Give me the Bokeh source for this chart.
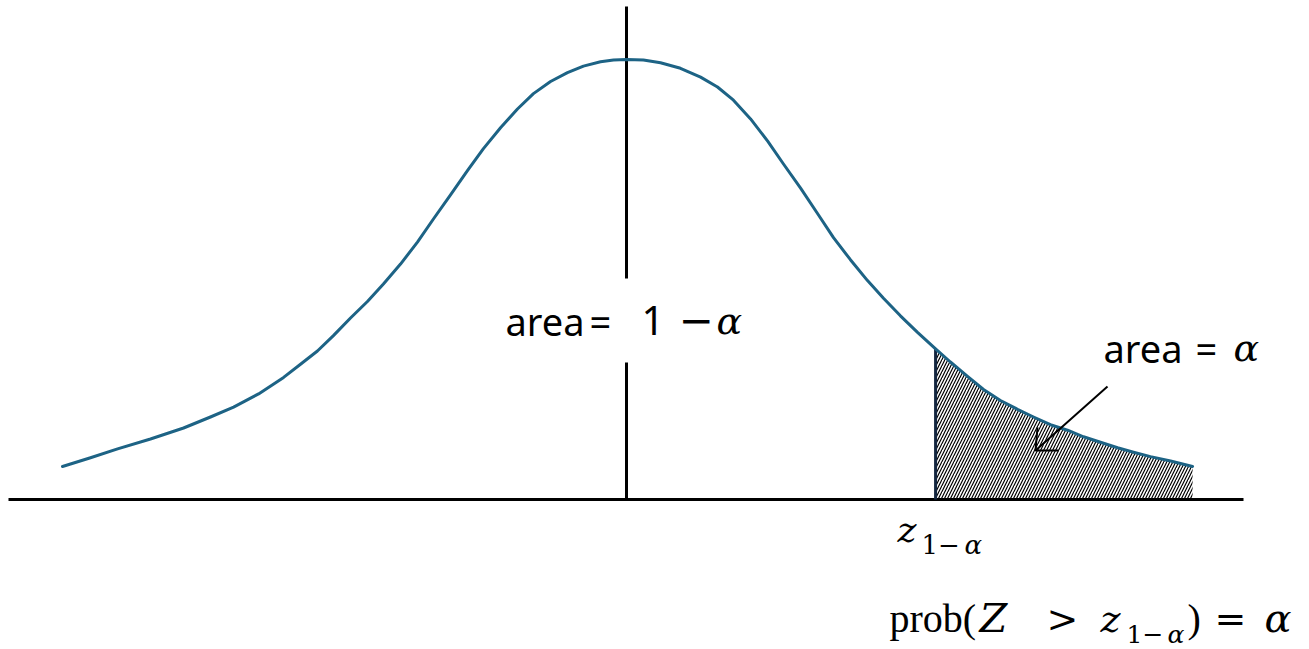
from bokeh.plotting import figure
from bokeh.models import Range1d, Label
from bokeh.embed import file_html
from bokeh.resources import INLINE

# ---- data ----
curve_z = [-3.000, -2.851, -2.707, -2.532, -2.356, -2.213, -2.090, -1.957, -1.824, -1.734,
           -1.644, -1.559, -1.468, -1.378, -1.293, -1.202, -1.112, -1.027, -0.936, -0.846,
           -0.761, -0.670, -0.580, -0.495, -0.404, -0.314, -0.229, -0.138, -0.069, 0.000,
           0.090, 0.181, 0.287, 0.394, 0.484, 0.569, 0.660, 0.750, 0.835, 0.926,
           1.016, 1.101, 1.191, 1.282, 1.367, 1.457, 1.548, 1.644, 1.723, 1.814,
           1.899, 1.989, 2.080, 2.165, 2.255, 2.346, 2.431, 2.521, 2.612, 2.697,
           2.787, 2.894, 3.011]
curve_h = [0.030, 0.038, 0.046, 0.055, 0.065, 0.075, 0.084, 0.096, 0.111, 0.123,
           0.135, 0.149, 0.165, 0.180, 0.196, 0.214, 0.234, 0.255, 0.277, 0.299,
           0.319, 0.338, 0.355, 0.369, 0.380, 0.388, 0.394, 0.398, 0.3995, 0.400,
           0.3995, 0.397, 0.392, 0.384, 0.375, 0.363, 0.346, 0.326, 0.305, 0.283,
           0.260, 0.238, 0.218, 0.199, 0.183, 0.167, 0.152, 0.137, 0.125, 0.112,
           0.100, 0.090, 0.082, 0.075, 0.068, 0.063, 0.057, 0.052, 0.047, 0.043,
           0.039, 0.035, 0.030]
z_crit = 1.644
z_mean = 0.0

# ---- layout helpers (pixel -> data) ----
X0, PXZ = 626.0, 188.0
Y0, PXH = 499.0, 1100.0
W, H = 1309, 649


def dx(px):
    return (px - X0) / PXZ


def dy(py):
    return (Y0 - py) / PXH


p = figure(width=W, height=H, output_backend="svg", toolbar_location=None,
           x_range=Range1d(dx(0), dx(W)), y_range=Range1d(dy(H), dy(0)),
           x_axis_type=None, y_axis_type=None, min_border=0,
           outline_line_color=None, background_fill_color="white",
           border_fill_color="white")

# hatched tail
tail_z = [z for z in curve_z if z >= z_crit]
tail_h = [h for z, h in zip(curve_z, curve_h) if z >= z_crit]
p.varea(x=tail_z, y1=[0] * len(tail_z), y2=tail_h, fill_color=None, fill_alpha=0,
        hatch_pattern="/", hatch_color="black", hatch_scale=6, hatch_weight=1.2)

# baseline
p.line(x=[dx(8), dx(1243)], y=[0, 0], line_color="black", line_width=3)

# centre line (with gap for label)
p.line(x=[z_mean, z_mean], y=[0, dy(362)], line_color="black", line_width=3)
p.line(x=[z_mean, z_mean], y=[dy(278), dy(6)], line_color="black", line_width=3)

# critical value line
p.line(x=[z_crit, z_crit], y=[0, tail_h[0]], line_color="#14263f", line_width=3)

# curve
p.line(x=curve_z, y=curve_h, line_color="#1d6385", line_width=3,
       line_join="round", line_cap="round")

# arrow
p.line(x=[dx(1107), dx(1035)], y=[dy(386), dy(450)], line_color="black", line_width=2)
p.line(x=[dx(1058), dx(1035), dx(1037)], y=[dy(450), dy(450), dy(427)],
       line_color="black", line_width=2)


def label(px_x, base, text, font, size, style="normal"):
    # anchor shifted so that the glyph baseline lands on `base`
    p.add_layout(Label(x=dx(px_x), y=dy(base - 0.38 * size), text=text, text_font=font,
                       text_font_size=f"{size}px", text_font_style=style,
                       text_align="left", text_baseline="alphabetic",
                       text_color="black"))


SANS = "Noto Sans"
SERIF = "Liberation Serif"
MATH = "DejaVu Serif"

# area = 1 − α
label(505, 335, "area", SANS, 38)
label(589, 335, "=", SANS, 38)
label(641, 335, "1", SANS, 40)
label(678, 335, "\u2212", "DejaVu Sans", 42)
label(716, 335, "\u03b1", MATH, 38, "italic")

# area = α
label(1103, 362, "area", SANS, 38)
label(1195, 362, "=", SANS, 38)
label(1233, 362, "\u03b1", MATH, 38, "italic")

# z_{1−α}
label(897, 543, "z", MATH, 36, "italic")
label(921, 554, "1\u2212", MATH, 26)
label(964, 554, "\u03b1", MATH, 26, "italic")

# prob(Z > z_{1−α}) = α
label(889, 633, "prob(", SERIF, 40)
label(979, 633, "Z", MATH, 40, "italic")
label(1046, 633, ">", MATH, 38)
label(1100, 633, "z", MATH, 38, "italic")
label(1126, 643, "1\u2212", MATH, 25)
label(1167, 643, "\u03b1", MATH, 25, "italic")
label(1187, 633, ")", SERIF, 40)
label(1214, 633, "=", MATH, 38)
label(1264, 633, "\u03b1", MATH, 40, "italic")

open("out.html", "w").write(file_html(p, INLINE))
